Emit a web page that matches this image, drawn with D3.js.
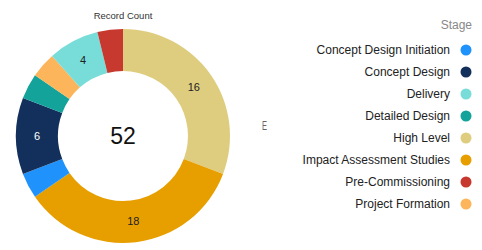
<!DOCTYPE html>
<html><head><meta charset="utf-8">
<script src="https://cdn.jsdelivr.net/npm/d3@7"></script>
<style>body{margin:0;background:#fff;}svg{display:block;font-family:"Liberation Sans",Arial,sans-serif;}</style>
</head><body>
<svg id="c" width="482" height="250"></svg>
<script>
const sliceStages = ["High Level","Impact Assessment Studies","Concept Design Initiation","Concept Design","Detailed Design","Project Formation","Delivery","Pre-Commissioning"];
const sliceCounts = [16,18,2,6,2,2,4,2];
const legendStages = ["Concept Design Initiation","Concept Design","Delivery","Detailed Design","High Level","Impact Assessment Studies","Pre-Commissioning","Project Formation"];
const stageColors = ["#1f93fb","#13305d","#78ddd8","#13a39a","#dfcd7f","#e79f00","#c7382f","#fdb55b"];
const labelColors = {"Concept Design":"#fff"};

const svg = d3.select("#c");
const cx = 123, cy = 136, rOut = 107, rIn = 65;
const color = d3.scaleOrdinal().domain(legendStages).range(stageColors);
const data = sliceStages.map((s,i)=>({stage:s,count:sliceCounts[i]}));
const pie = d3.pie().sort(null).value(d=>d.count);
const arc = d3.arc().innerRadius(rIn).outerRadius(rOut);
const g = svg.append("g").attr("transform",`translate(${cx},${cy})`);
const arcs = pie(data);
g.selectAll("path").data(arcs).join("path").attr("d",arc).attr("fill",d=>color(d.data.stage));
g.selectAll("text.lbl").data(arcs.filter(d=>d.data.count>=4)).join("text").attr("class","lbl")
  .attr("transform",d=>`translate(${arc.centroid(d)})`).attr("text-anchor","middle").attr("dy","0.35em")
  .attr("font-size",11).attr("fill",d=>labelColors[d.data.stage]||"#222").text(d=>d.data.count);
g.append("text").attr("text-anchor","middle").attr("dy","0.35em").attr("font-size",23).attr("fill","#111")
  .text(d3.sum(sliceCounts));
svg.append("text").attr("x",cx).attr("y",18.5).attr("text-anchor","middle").attr("font-size",9.5).attr("fill","#333").text("Record Count");
svg.append("text").attr("x",262).attr("y",130).attr("font-size",12).attr("fill","#666")
  .attr("textLength",5).attr("lengthAdjust","spacingAndGlyphs").text("E");

const lg = svg.append("g");
lg.append("text").attr("x",472).attr("y",29).attr("text-anchor","end").attr("font-size",12).attr("fill","#888").text("Stage");
const rowY = d3.scalePoint().domain(legendStages).range([50,204]);
const items = lg.selectAll("g.it").data(legendStages).join("g").attr("class","it").attr("transform",d=>`translate(0,${rowY(d)})`);
items.append("text").attr("x",450).attr("text-anchor","end").attr("dy","0.35em").attr("font-size",12).attr("fill","#222").text(d=>d);
items.append("circle").attr("cx",466).attr("r",5.5).attr("fill",d=>color(d));
</script>
</body></html>
